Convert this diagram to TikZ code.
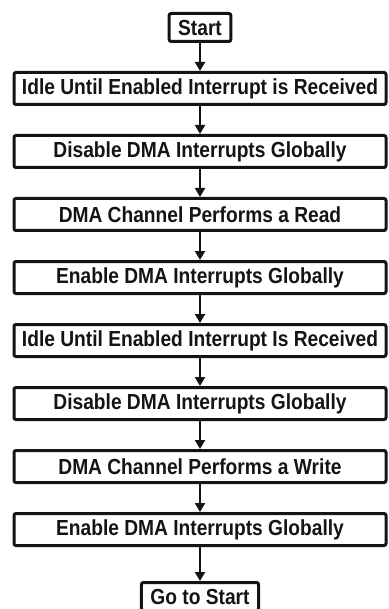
\documentclass[tikz,border=0pt]{standalone}
\usepackage{xcolor}
\usepackage{fontspec}
\setmainfont{Liberation Sans}[FakeStretch=0.88]
\usepackage{tikz}
\usetikzlibrary{arrows.meta, positioning}
\definecolor{ink}{HTML}{141414}
\tikzset{
  pbox/.style={draw=ink, fill=white, rounded corners=2pt, align=center,
    minimum height=32pt, minimum width=372pt, inner sep=0pt,
    font=\fontsize{21.8}{26}\selectfont\bfseries, text=ink, line width=3pt},
  tbox/.style={draw=ink, fill=white, rounded corners=2pt, align=center,
    minimum height=28pt, inner xsep=9pt, inner ysep=0pt,
    font=\fontsize{21.8}{26}\selectfont\bfseries, text=ink, line width=3pt},
  flow/.style={-{Triangle[length=9pt, width=10pt]}, draw=ink, line width=2pt}
}

\begin{document}
\begin{tikzpicture}[node distance=28pt]
\useasboundingbox (0,0) rectangle (388pt,-609pt);
\node[tbox] (start) at (200pt,-27.5pt) {Start};
\node[pbox, below=of start] (idle1) {Idle Until Enabled Interrupt is Received};
\node[pbox, below=of idle1] (dis1) {Disable DMA Interrupts Globally};
\node[pbox, below=of dis1] (read) {DMA Channel Performs a Read};
\node[pbox, below=of read] (en1) {Enable DMA Interrupts Globally};
\node[pbox, below=of en1] (idle2) {Idle Until Enabled Interrupt Is Received};
\node[pbox, below=of idle2] (dis2) {Disable DMA Interrupts Globally};
\node[pbox, below=of dis2] (write) {DMA Channel Performs a Write};
\node[pbox, below=of write] (en2) {Enable DMA Interrupts Globally};
\node[tbox, below=34pt of en2] (goto) {Go to Start};
\draw[flow] (start)--(idle1); \draw[flow] (idle1)--(dis1); \draw[flow] (dis1)--(read);
\draw[flow] (read)--(en1); \draw[flow] (en1)--(idle2); \draw[flow] (idle2)--(dis2);
\draw[flow] (dis2)--(write); \draw[flow] (write)--(en2); \draw[flow] (en2)--(goto);
\end{tikzpicture}
\end{document}
